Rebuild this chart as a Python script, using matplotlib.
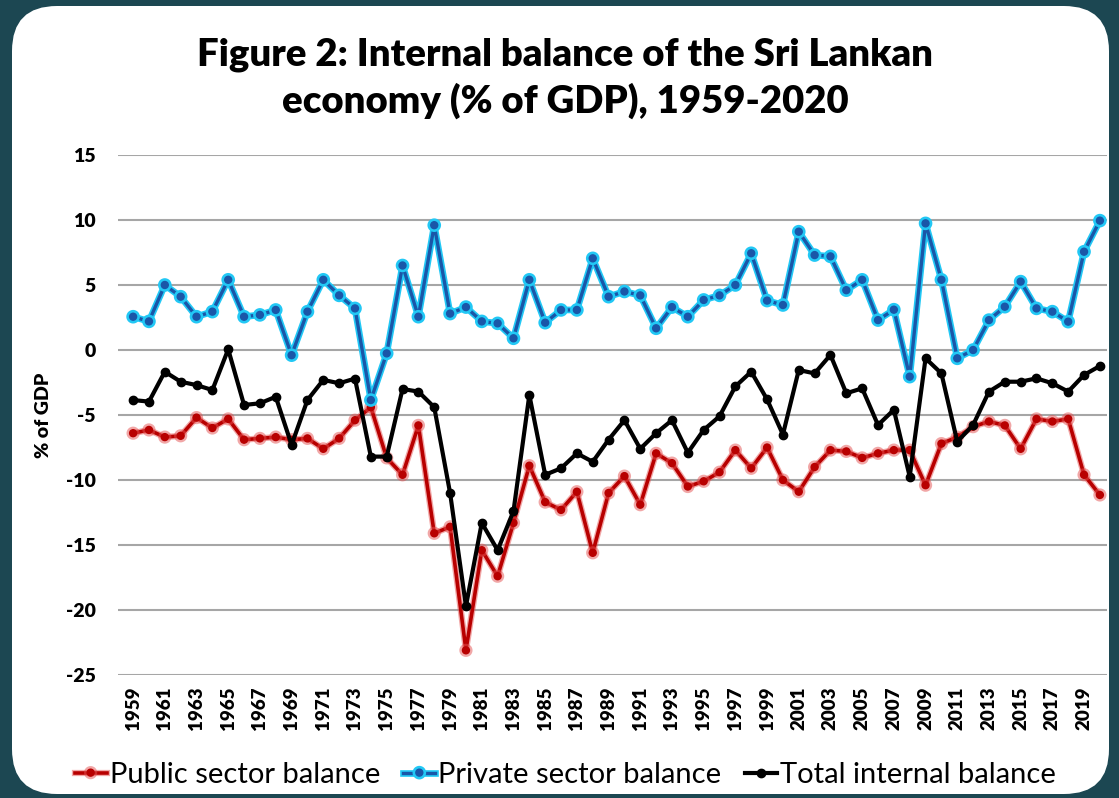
import numpy as np
import matplotlib
matplotlib.use("Agg")
import matplotlib.pyplot as plt
import matplotlib.patheffects as pe
from matplotlib.patches import FancyBboxPatch
from matplotlib.transforms import IdentityTransform

years = list(range(1959, 2021))

public = [-6.4, -6.15, -6.7, -6.6, -5.2, -6.0, -5.3, -6.9, -6.8, -6.7,
          -6.9, -6.8, -7.6, -6.8, -5.4, -4.4, -8.3, -9.6, -5.8, -14.1,
          -13.6, -23.1, -15.4, -17.4, -13.3, -8.9, -11.7, -12.3, -10.9, -15.6,
          -11.0, -9.7, -11.9, -7.95, -8.7, -10.5, -10.1, -9.4, -7.7, -9.1,
          -7.5, -10.0, -10.9, -9.0, -7.7, -7.8, -8.3, -7.95, -7.7, -7.7,
          -10.4, -7.2, -6.7, -5.9, -5.5, -5.8, -7.6, -5.3, -5.5, -5.3,
          -9.6, -11.15]

private = [2.56, 2.2, 5.0, 4.1, 2.56, 2.95, 5.4, 2.56, 2.7, 3.08,
           -0.4, 2.95, 5.4, 4.2, 3.2, -3.85, -0.26, 6.5, 2.56, 9.6,
           2.8, 3.3, 2.2, 2.05, 0.9, 5.4, 2.1, 3.08, 3.08, 7.05,
           4.1, 4.5, 4.2, 1.67, 3.3, 2.56, 3.85, 4.2, 5.0, 7.44,
           3.8, 3.46, 9.1, 7.3, 7.2, 4.6, 5.4, 2.3, 3.1, -2.05,
           9.74, 5.4, -0.64, 0.0, 2.3, 3.33, 5.26, 3.2, 2.95, 2.18,
           7.56, 9.95]

total = [-3.85, -3.97, -1.67, -2.44, -2.7, -3.08, 0.05, -4.23, -4.1, -3.6,
         -7.3, -3.85, -2.3, -2.56, -2.2, -8.2, -8.2, -3.0, -3.2, -4.4,
         -11.0, -19.7, -13.3, -15.4, -12.4, -3.46, -9.6, -9.1, -7.95, -8.6,
         -6.9, -5.4, -7.6, -6.4, -5.4, -7.9, -6.15, -5.1, -2.8, -1.67,
         -3.8, -6.5, -1.54, -1.8, -0.38, -3.33, -2.95, -5.77, -4.6, -9.74,
         -0.64, -1.8, -7.05, -5.77, -3.2, -2.44, -2.44, -2.18, -2.56, -3.2,
         -1.92, -1.23]

labels = ["Public sector balance", "Private sector balance", "Total internal balance"]
yticks = [15, 10, 5, 0, -5, -10, -15, -20, -25]

plt.rcParams['font.family'] = ['Lato', 'DejaVu Sans']
plt.rcParams['axes.unicode_minus'] = False

fig = plt.figure(figsize=(11.19, 7.98), dpi=100, facecolor='#1c4752')

# white rounded card behind everything
card = FancyBboxPatch((12, 4), 1097, 788, boxstyle="round,pad=0,rounding_size=45",
                      transform=IdentityTransform(), facecolor='white', edgecolor='none',
                      zorder=-10)
fig.patches.append(card)

ax = fig.add_axes([0.1055, 0.1541, 0.8838, 0.6517])
ax.set_facecolor('none')

l1, = ax.plot(years, public, color='#b80000', lw=2.6, marker='o', ms=5, zorder=3,
              path_effects=[pe.Stroke(linewidth=4.5, foreground='#e45050', alpha=0.5), pe.Normal()])
l2, = ax.plot(years, private, color='#1a56a8', lw=2.4, marker='o', ms=5, zorder=4,
              path_effects=[pe.Stroke(linewidth=4.8, foreground='#22c8f5'), pe.Normal()])
l3, = ax.plot(years, total, color='black', lw=3, marker='o', ms=6, zorder=5)

ax.set_xlim(1958.05, 2020.45)
ax.set_ylim(-25, 15)
ax.set_yticks(yticks)
ax.set_xticks(years[::2])
ax.set_xticklabels([str(y) for y in years[::2]], rotation=90, fontsize=13.5, fontweight='heavy')
ax.tick_params(axis='y', labelsize=14, length=0, pad=16)
ax.tick_params(axis='x', length=0, pad=8)
for t in ax.get_yticklabels():
    t.set_fontweight('heavy')
ax.grid(axis='y', color='#a6a6a6', lw=1.5)
ax.set_axisbelow(True)
for s in ax.spines.values():
    s.set_visible(False)

ax.set_ylabel('% of GDP', fontsize=14, fontweight='heavy', labelpad=10)

fig.text(0.505, 0.9025, "Figure 2: Internal balance of the Sri Lankan\neconomy (% of GDP), 1959-2020",
         ha='center', va='center', fontsize=27.5, fontweight='heavy', linespacing=1.35)

fig.legend([l1, l2, l3], labels, loc='center', bbox_to_anchor=(0.505, 0.029), ncol=3,
           frameon=False, fontsize=21, handlelength=1.1, handletextpad=0.1, columnspacing=0.8)

fig.savefig('out.png', dpi=100, facecolor=fig.get_facecolor())
